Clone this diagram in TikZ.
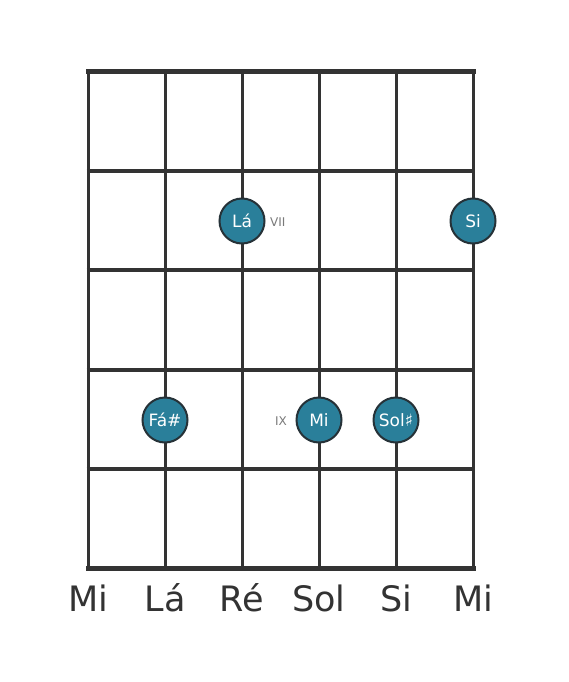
\documentclass[tikz,border=0pt]{standalone}
\usepackage{fontspec}
\setmainfont{DejaVu Sans}
\definecolor{gridc}{HTML}{333333}
\definecolor{notefill}{HTML}{2A7F9A}
\definecolor{noteedge}{HTML}{263238}
\definecolor{romanc}{HTML}{7A7A7A}
\begin{document}
\begin{tikzpicture}[x=1pt,y=-1pt,
  stringline/.style={draw=gridc,line width=3pt},
  fretline/.style={draw=gridc,line width=4pt},
  nutline/.style={draw=gridc,line width=5pt},
  note/.style={circle,fill=notefill,draw=noteedge,line width=2pt,minimum size=45pt,inner sep=0pt,text=white,font=\fontsize{17}{17}\selectfont},
  roman/.style={text=romanc,font=\fontsize{12}{12}\selectfont,inner sep=0pt},
  strname/.style={text=gridc,font=\fontsize{35}{35}\selectfont,inner sep=0pt}]
\useasboundingbox (0,0) rectangle (568,682);
\fill[white] (0,0) rectangle (568,682);
% strings
\foreach \x in {88,165,242,319,396,473}
  \draw[stringline] (\x,72) -- (\x,568);
% frets
\foreach \y in {171,270,370,469}
  \draw[fretline] (86.5,\y) -- (474.5,\y);
\draw[nutline,line cap=rect] (88,72) -- (473,72);
\draw[nutline,line cap=rect] (88,568) -- (473,568);
% notes
\node[note] (la) at (242,221) {Lá};
\node[note] (si) at (473,221) {Si};
\node[note] (fa) at (165,420) {Fá\#};
\node[note] (mi) at (319,420) {Mi};
\node[note] (sol) at (396,420) {Sol♯};
\node[roman,anchor=west] (vii) at (270,222) {VII};
\node[roman,anchor=east] (ix) at (287,421) {IX};
% string names
\node[strname] (s1) at (88,598) {Mi};
\node[strname] (s2) at (165,598) {Lá};
\node[strname] (s3) at (242,598) {Ré};
\node[strname] (s4) at (319,598) {Sol};
\node[strname] (s5) at (396,598) {Si};
\node[strname] (s6) at (473,598) {Mi};
\end{tikzpicture}
\end{document}
